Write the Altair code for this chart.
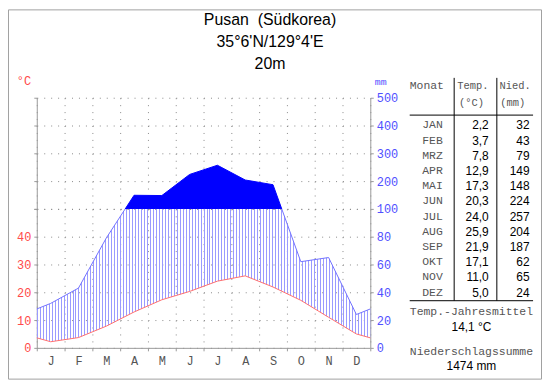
import altair as alt
import pandas as pd

# ---------------- data ----------------
month_letters = ["J", "F", "M", "A", "M", "J", "J", "A", "S", "O", "N", "D"]
month_names = ["JAN", "FEB", "MRZ", "APR", "MAI", "JUN", "JUL", "AUG", "SEP", "OKT", "NOV", "DEZ"]
temperature = [2.2, 3.7, 7.8, 12.9, 17.3, 20.3, 24.0, 25.9, 21.9, 17.1, 11.0, 5.0]
precipitation = [32, 43, 79, 149, 148, 224, 257, 204, 187, 62, 65, 24]
title_lines = ["Pusan\u00a0 (Südkorea)", "35°6'N/129°4'E", "20m"]
table_header = ["Monat", "Temp.", "Nied."]
table_units = ["(°C)", "(mm)"]
summary_labels = ["Temp.-Jahresmittel", "Niederschlagssumme"]

# ---------------- styles ----------------
MONO = "Liberation Mono"
SANS = "Liberation Sans"
RED = "#ff4a4a"
BLUE = "#5050ff"
AX = "#9a9a9a"
GRID = "#8a8a8a"
TXT = "#555555"
HATCH = "#9a9aff"

# series at month centres, wrapped by one month on each side so lines reach the edges
pos = [-0.5] + [i + 0.5 for i in range(12)] + [12.5]
idx = [11] + list(range(12)) + [0]
clim = pd.DataFrame({
    "pos": pos,
    "temp": [temperature[i] for i in idx],
    "prec": [precipitation[i] for i in idx],
})

base = alt.Chart(clim).transform_calculate(
    pt="datum.prec <= 100 ? datum.prec / 2 : 50 + (datum.prec - 100) / 10"
)

xscale = alt.Scale(domain=[0, 12], nice=False, zero=False)
grid_kw = dict(grid=True, gridColor=GRID, gridDash=[1, 6], gridWidth=1)

x_axis_upper = alt.Axis(values=list(range(13)), labels=False, ticks=False, domain=False,
                        title=None, **grid_kw)
letters_expr = "[" + ",".join("'%s'" % m for m in month_letters) + "][datum.value] || ''"
x_axis_lower = alt.Axis(values=list(range(13)), labelExpr=letters_expr, labelOffset=14,
                        labelFlush=False, labelOverlap=False, labelColor="#555555",
                        labelFont=MONO, labelFontSize=12, labelPadding=5,
                        tickSize=3, tickColor=AX, domainColor=AX, title=None, **grid_kw)

# ---------------- upper panel (100-500 mm) ----------------
y_up = alt.Scale(domain=[50, 90], nice=False, zero=False)
ax_up_left = alt.Axis(orient="left", values=[50, 60, 70, 80, 90], labels=False, tickSize=3,
                      tickColor=AX, domainColor=AX, title="°C", titleAngle=0, titleX=-13.5,
                      titleY=-17, titleAlign="center", titleBaseline="middle", titleColor=RED,
                      titleFont=MONO, titleFontSize=12, titleFontWeight="normal", **grid_kw)
ax_up_right = alt.Axis(orient="right", values=[60, 70, 80, 90],
                       labelExpr="'' + ((datum.value - 50) * 10 + 100)", labelColor=BLUE,
                       labelFont=MONO, labelFontSize=12, labelPadding=3, labelFlush=False,
                       tickSize=3, tickColor=AX, domainColor=AX, grid=False,
                       title="mm", titleAngle=0, titleX=10, titleY=-16, titleAlign="center",
                       titleBaseline="middle", titleColor=BLUE, titleFont=MONO,
                       titleFontSize=10, titleFontWeight="normal")

wet = base.mark_area(color="#0000ff", clip=True).encode(
    x=alt.X("pos:Q", scale=xscale, axis=x_axis_upper),
    y=alt.Y("pt:Q", scale=y_up, axis=ax_up_left),
    y2=alt.datum(50),
)
wet_edge = base.mark_line(color="#0000ff", strokeWidth=1, clip=True).encode(
    x=alt.X("pos:Q", scale=xscale, axis=x_axis_upper),
    y=alt.Y("pt:Q", scale=y_up, axis=ax_up_right),
)
upper = alt.layer(wet, wet_edge).resolve_scale(y="independent").properties(width=336, height=112)

# ---------------- lower panel (0-50 °C / 0-100 mm) ----------------
y_low = alt.Scale(domain=[0, 50], nice=False)
ax_low_left = alt.Axis(orient="left", values=[0, 10, 20, 30, 40, 50],
                       labelExpr="datum.value < 50 ? datum.label : ''", labelColor=RED,
                       labelFont=MONO, labelFontSize=12, labelPadding=3, labelFlush=False,
                       tickSize=3, tickColor=AX, domainColor=AX, title=None, **grid_kw)
ax_low_right = alt.Axis(orient="right", values=[0, 10, 20, 30, 40, 50],
                        labelExpr="'' + datum.value * 2", labelColor=BLUE, labelFont=MONO,
                        labelFontSize=12, labelPadding=3, labelFlush=False, tickSize=3,
                        tickColor=AX, domainColor=AX, grid=False, title=None)

bbox_w = 13 * 28  # the area path runs from -0.5 to 12.5 months
clear = "rgba(154,154,255,0)"
stops = [alt.GradientStop(color=clear, offset=0)]
for o in range(2, bbox_w - 1, 3):
    a, b = o / bbox_w, (o + 1) / bbox_w
    stops += [alt.GradientStop(color=clear, offset=a), alt.GradientStop(color=HATCH, offset=a),
              alt.GradientStop(color=HATCH, offset=b), alt.GradientStop(color=clear, offset=b)]
stops.append(alt.GradientStop(color=clear, offset=1))
hatch_fill = alt.LinearGradient(gradient="linear", stops=stops, x1=0, x2=1, y1=0, y2=0)

humid = base.mark_area(fill=hatch_fill, clip=True).encode(
    x=alt.X("pos:Q", scale=xscale, axis=x_axis_lower),
    y=alt.Y("temp:Q", scale=y_low, axis=ax_low_left),
    y2="pt:Q",
)
tline = base.mark_line(color="#ff6f6f", strokeWidth=1, clip=True).encode(
    x=alt.X("pos:Q", scale=xscale, axis=x_axis_lower),
    y=alt.Y("temp:Q", scale=y_low, axis=ax_low_left),
)
pline = base.mark_line(color="#7272ff", strokeWidth=1, clip=True).encode(
    x=alt.X("pos:Q", scale=xscale, axis=x_axis_lower),
    y=alt.Y("pt:Q", scale=y_low, axis=ax_low_right),
)

# ---------------- table, title and frame (drawn beside the lower panel) ----------------
rows = pd.DataFrame({
    "row": list(range(12)),
    "mon": month_names,
    "t": [("%.1f" % v).replace(".", ",") for v in temperature],
    "p": [str(v) for v in precipitation],
})
mean_t = sum(temperature) / len(temperature)
summary_values = [("%.1f" % mean_t).replace(".", ",") + " °C", "%d mm" % sum(precipitation)]

row_y = alt.Y("row:Q", scale=alt.Scale(domain=[0, 11], range=[-84, 84.3], nice=False,
                                       zero=False), axis=None)
trows = alt.Chart(rows)
t_mon = trows.mark_text(align="right", baseline="middle", font=MONO, fontSize=11.5,
                        color=TXT).encode(x=alt.value(409), y=row_y, text="mon:N")
t_tmp = trows.mark_text(align="right", baseline="middle", font=SANS, fontSize=12,
                        color="black").encode(x=alt.value(455.3), y=row_y, text="t:N")
t_pre = trows.mark_text(align="right", baseline="middle", font=SANS, fontSize=12,
                        color="black").encode(x=alt.value(496.5), y=row_y, text="p:N")

one = pd.DataFrame({"k": [0]})


def label(txt, x, y, font=MONO, size=11.5, color=TXT, align="center"):
    return alt.Chart(one).mark_text(text=txt, font=font, fontSize=size, color=color,
                                    align=align, baseline="middle").encode(
        x=alt.value(x), y=alt.value(y))


def rule(x, x2, y, y2, color="black"):
    return alt.Chart(one).mark_rule(color=color, strokeWidth=1).encode(
        x=alt.value(x), x2=alt.value(x2), y=alt.value(y), y2=alt.value(y2))


texts = [
    label(table_header[0], 375.7, -123.3, align="left"),
    label(table_header[1], 423.7, -123.3, size=10.5, align="left"),
    label(table_header[2], 466.3, -123.3, size=10.5, align="left"),
    label(table_units[0], 438, -106.3, size=10.5),
    label(table_units[1], 479.5, -106.3, size=10.5),
    label(summary_labels[0], 437.9, 104.3),
    label(summary_values[0], 437.9, 118.7, font=SANS, size=12, color="black"),
    label(summary_labels[1], 437.9, 144.3),
    label(summary_values[1], 437.9, 158.7, font=SANS, size=12, color="black"),
]
lines = [
    rule(420.5, 420.5, -132, 92.5),
    rule(463.5, 463.5, -132, 92.5),
    rule(375.7, 500, -94.5, -94.5),
    rule(375.7, 500, 92.5, 92.5),
]
title = alt.Chart(one).mark_text(text=title_lines, font=SANS, fontSize=16, color="black",
                                 align="center", baseline="top", lineHeight=22).encode(
    x=alt.value(235), y=alt.value(-198))
frame = alt.Chart(one).mark_rect(fill="white", fillOpacity=0, stroke="#a0a0a0",
                                 strokeWidth=1).encode(
    x=alt.value(-28.5), x2=alt.value(508.5), y=alt.value(-200.5), y2=alt.value(171.5))

lower = alt.layer(
    alt.layer(humid, tline), pline, frame, title, *lines, t_mon, t_tmp, t_pre, *texts
).resolve_scale(y="independent").properties(width=336, height=140)

chart = alt.vconcat(upper, lower, spacing=0, bounds="flush").properties(
    padding=0).configure_view(strokeWidth=0)

chart.save("out.html", embed_options={"renderer": "svg", "actions": False})
